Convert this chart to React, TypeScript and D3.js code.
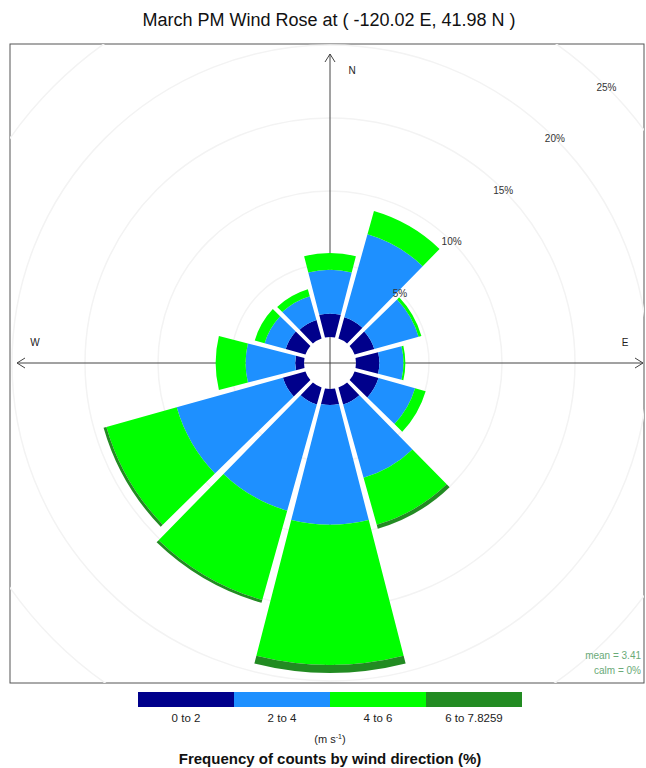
import React from "react";
import * as d3 from "d3";

const titleText = "March PM Wind Rose at ( -120.02 E, 41.98 N )";
const directions = [0, 30, 60, 90, 120, 150, 180, 210, 240, 270, 300, 330];
const speedBins = ["0 to 2", "2 to 4", "4 to 6", "6 to 7.8259"];
const binColors = ["#00008b", "#1e90ff", "#00ff00", "#228b22"];
// frequency (%) per direction for each speed bin
const freq0to2 = [1.6, 1.5, 1.4, 1.6, 1.7, 1.2, 1.1, 1.2, 1.6, 0.6, 1.4, 1.3];
const freq2to4 = [3.0, 5.9, 3.15, 1.65, 2.6, 5.2, 8.2, 7.55, 7.55, 3.4, 1.5, 1.7];
const freq4to6 = [1.15, 1.65, 0.2, 0.13, 0.75, 3.35, 9.6, 6.35, 5.0, 2.05, 0.7, 0.5];
const freq6to8 = [0, 0, 0, 0, 0, 0.28, 0.55, 0.2, 0.2, 0, 0, 0];
const gridTicks = [5, 10, 15, 20, 25];
const meanText = "mean = 3.41";
const calmText = "calm = 0%";

const W = 646;
const H = 768;
const cx = 330;
const cy = 363;
const frame = { x: 10, y: 44, w: 634, h: 639 };

export default function App() {
  const r = d3.scaleLinear().domain([0, 25]).range([26, 26 + 14.6 * 25]);
  const series = [freq0to2, freq2to4, freq4to6, freq6to8];
  const arc = d3.arc<any>().padRadius(100).padAngle(0.03);
  const halfW = ((15 - 0.6) * Math.PI) / 180;

  const wedges: { d: string; fill: string; key: string }[] = [];
  directions.forEach((dir, i) => {
    let cum = 0;
    series.forEach((s, b) => {
      const v = s[i];
      if (v <= 0) return;
      const a = (dir * Math.PI) / 180;
      const d = arc({
        innerRadius: r(cum),
        outerRadius: r(cum + v),
        startAngle: a - halfW,
        endAngle: a + halfW,
      }) as string;
      wedges.push({ d, fill: binColors[b], key: `${i}-${b}` });
      cum += v;
    });
  });

  const legendX = d3.scaleBand<string>().domain(speedBins).range([138, 522]);
  const font = "'Liberation Sans', Arial, Helvetica, sans-serif";
  const ax = 313;
  const ay = 309;

  return (
    <svg
      width={W}
      height={H}
      style={{ position: "absolute", left: 0, top: 0, background: "#fff" }}
      fontFamily={font}
    >
      <defs>
        <clipPath id="frameClip">
          <rect x={frame.x} y={frame.y} width={frame.w} height={frame.h} />
        </clipPath>
      </defs>
      <text x={329} y={26} textAnchor="middle" fontSize={18} fill="#111">
        {titleText}
      </text>
      <rect x={frame.x} y={frame.y} width={frame.w} height={frame.h} fill="none" stroke="#555" strokeWidth={1} />
      <g clipPath="url(#frameClip)">
        {gridTicks.map((t) => (
          <circle key={t} cx={cx} cy={cy} r={r(t)} fill="none" stroke="#f3f3f3" strokeWidth={1.5} />
        ))}
      </g>
      {/* axes */}
      <g stroke="#444" strokeWidth={1} fill="none">
        <line x1={cx - ax} y1={cy} x2={cx + ax} y2={cy} />
        <line x1={cx} y1={cy - ay} x2={cx} y2={cy + ay} />
        <path d={`M${cx - ax + 8},${cy - 5} L${cx - ax},${cy} L${cx - ax + 8},${cy + 5}`} />
        <path d={`M${cx + ax - 8},${cy - 5} L${cx + ax},${cy} L${cx + ax - 8},${cy + 5}`} />
        <path d={`M${cx - 5},${cy - ay + 8} L${cx},${cy - ay} L${cx + 5},${cy - ay + 8}`} />
        <path d={`M${cx - 5},${cy + ay - 8} L${cx},${cy + ay} L${cx + 5},${cy + ay - 8}`} />
      </g>
      <g fontSize={10} fill="#222" textAnchor="middle">
        <text x={352} y={74}>N</text>
        <text x={35} y={346}>W</text>
        <text x={625} y={346}>E</text>
      </g>
      <g transform={`translate(${cx},${cy})`}>
        {wedges.map((w) => (
          <path key={w.key} d={w.d} fill={w.fill} />
        ))}
      </g>
      <g fontSize={10} fill="#333" textAnchor="middle">
        {gridTicks.map((t) => (
          <text key={t} x={cx + r(t) / Math.SQRT2} y={cy - r(t) / Math.SQRT2 + 4}>
            {t}%
          </text>
        ))}
      </g>
      <g fontSize={10} textAnchor="end" fill="#6aaa78">
        <text x={641} y={659}>{meanText}</text>
        <text x={641} y={674}>{calmText}</text>
      </g>
      {/* legend */}
      {speedBins.map((b, i) => (
        <g key={b}>
          <rect x={legendX(b)} y={692} width={legendX.bandwidth()} height={15} fill={binColors[i]} />
          <text x={(legendX(b) as number) + legendX.bandwidth() / 2} y={722} fontSize={11.5} textAnchor="middle" fill="#222">
            {b}
          </text>
        </g>
      ))}
      <text x={330} y={743} fontSize={11} textAnchor="middle" fill="#222">
        (m s<tspan dy={-4} fontSize={7}>-1</tspan>
        <tspan dy={4}>)</tspan>
      </text>
      <text x={330} y={764} fontSize={15} fontWeight="bold" textAnchor="middle" fill="#111">
        Frequency of counts by wind direction (%)
      </text>
    </svg>
  );
}
